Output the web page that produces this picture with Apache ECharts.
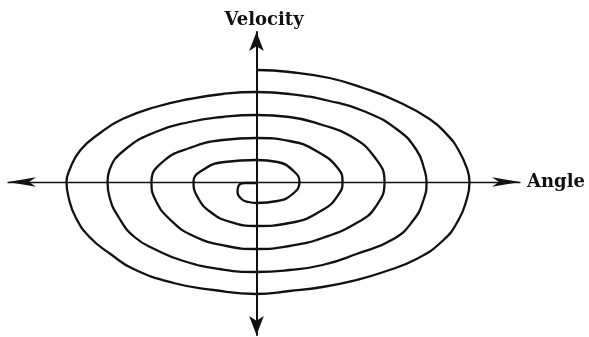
<!DOCTYPE html>
<html>
<head>
<meta charset="utf-8">
<title>Velocity vs Angle</title>
<script src="https://cdn.jsdelivr.net/npm/echarts@6/dist/echarts.min.js"></script>
<style>
  html, body { margin: 0; padding: 0; background: #fff; }
  #myChart { width: 589px; height: 337px; }
</style>
</head>
<body>
<div id="myChart"></div>
<script>
// spiral traced from the centre outwards (angle, velocity)
const angle = [
  0, -12, -18, -19, -15, -8, 0,
  21, 36, 43,
  37, 21, 0,
  -32, -52, -63,
  -59, -46, -26, 0,
  33, 66, 83, 86,
  82, 60, 33, 0,
  -34, -67, -94, -105,
  -101, -86, -63, -30, 0,
  33, 66, 100, 119, 128,
  118, 94, 66, 33, 0,
  -34, -67, -101, -132, -147, -149,
  -147, -138, -122, -100, -73, -37, 0,
  33, 66, 100, 137, 157, 167, 170,
  168, 160, 140, 107, 73, 33, 0,
  -34, -67, -101, -134, -155, -176, -187, -190,
  -188, -181, -167, -146, -123, -83, -43, 0,
  33, 66, 100, 127, 160, 187, 202, 210, 213,
  211, 202, 190, 173, 140, 107, 73, 33, 1
]
const velocity = [
  -1, -1, -4, -10, -17, -20, -21,
  -19, -12, 0,
  11, 20, 22,
  20, 13, 0,
  -15, -30, -40, -44,
  -41, -28, -11, 0,
  13, 31, 41, 44,
  42, 34, 20, 0,
  -18, -38, -54, -64, -67,
  -64, -56, -41, -25, 0,
  25, 46, 57, 65, 67,
  65, 60, 50, 32, 12, 0,
  -15, -35, -55, -68, -79, -87, -90,
  -88, -83, -72, -57, -38, -18, 0,
  12, 32, 53, 71, 81, 88, 90,
  88, 83, 75, 63, 50, 32, 12, 0,
  -15, -35, -55, -72, -87, -101, -108, -112,
  -109, -105, -98, -90, -77, -58, -38, -18, 0,
  12, 32, 48, 63, 81, 94, 104, 110, 112
]
const axisNames = ['Angle', 'Velocity']

const spiral = angle.map((a, i) => [a, velocity[i]])

const nameStyle = {
  color: '#111',
  fontFamily: 'DejaVu Serif',
  fontWeight: 'bold',
  fontSize: 18
}

const option = {
  animation: false,
  grid: {
    left: 8,
    right: 69,
    top: 32,
    bottom: 2
  },
  xAxis: {
    type: 'value',
    min: -248.5,
    max: 263.5,
    name: axisNames[0],
    nameLocation: 'end',
    nameGap: 7,
    nameTextStyle: nameStyle,
    axisLine: {
      onZero: true,
      symbol: ['arrow', 'arrow'],
      symbolSize: [7, 28],
      lineStyle: { color: '#111', width: 1.3 }
    },
    axisTick: { show: false },
    axisLabel: { show: false },
    splitLine: { show: false }
  },
  yAxis: {
    type: 'value',
    min: -153,
    max: 150,
    name: axisNames[1],
    nameLocation: 'end',
    nameGap: 3,
    nameTextStyle: Object.assign({ padding: [0, 0, 0, 15] }, nameStyle),
    axisLine: {
      onZero: true,
      symbol: ['arrow', 'arrow'],
      symbolSize: [11, 19],
      lineStyle: { color: '#111', width: 2 }
    },
    axisTick: { show: false },
    axisLabel: { show: false },
    splitLine: { show: false }
  },
  series: [
    {
      type: 'line',
      data: spiral,
      smooth: true,
      showSymbol: false,
      lineStyle: { color: '#111', width: 2.3 }
    }
  ]
}

const myChart = echarts.init(document.getElementById('myChart'))
myChart.setOption(option)
</script>
</body>
</html>
